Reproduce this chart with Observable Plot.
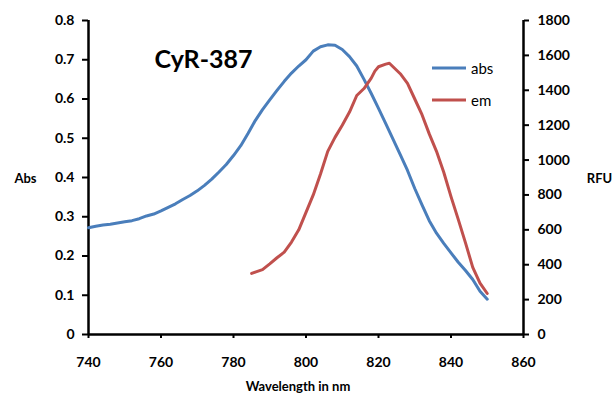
<!DOCTYPE html>
<html>
<head>
<meta charset="utf-8">
<script src="https://cdn.jsdelivr.net/npm/d3@7"></script>
<script src="https://cdn.jsdelivr.net/npm/@observablehq/plot@0.6"></script>
<style>
  html, body { margin: 0; padding: 0; background: #fff; }
  #wrap { position: relative; width: 613px; height: 396px; font-family: Lato, "Open Sans", sans-serif; }
  #legend { position: absolute; left: 432px; top: 52px; font-size: 15px; color: #000; }
  #legend .row { display: flex; align-items: center; height: 32px; }
  #legend svg { margin-right: 5px; }
</style>
</head>
<body>
<div id="wrap"><div id="legend"></div></div>
<script>
const titleText = "CyR-387";
const xLabel = "Wavelength in nm";
const leftLabel = "Abs";
const rightLabel = "RFU";
const seriesNames = ["abs", "em"];
const seriesColors = ["#4a7ebb", "#c0504d"];

const xTicks = [740, 760, 780, 800, 820, 840, 860];
const absTicks = [0, 0.1, 0.2, 0.3, 0.4, 0.5, 0.6, 0.7, 0.8];
const rfuTicks = [0, 200, 400, 600, 800, 1000, 1200, 1400, 1600, 1800];

const absWavelength = [740,742,744,746,748,750,752,754,756,758,760,762,764,766,768,770,772,774,776,778,780,782,784,786,788,790,792,794,796,798,800,802,804,806,808,810,812,814,816,818,820,822,824,826,828,830,832,834,836,838,840,842,844,846,848,850];
const absValues = [0.272,0.276,0.279,0.281,0.284,0.287,0.290,0.295,0.302,0.307,0.315,0.324,0.333,0.344,0.354,0.366,0.380,0.396,0.414,0.433,0.456,0.481,0.512,0.545,0.573,0.598,0.622,0.645,0.666,0.684,0.700,0.722,0.733,0.738,0.737,0.726,0.708,0.684,0.650,0.614,0.576,0.537,0.498,0.458,0.418,0.372,0.330,0.290,0.258,0.232,0.208,0.184,0.163,0.140,0.110,0.090];

const emWavelength = [785,786,788,790,792,794,796,798,800,802,803,804,806,808,810,812,814,816,818,819,820,822,823,824,826,828,830,832,834,836,838,840,842,844,846,848,850];
const emValues = [350,358,372,405,440,472,530,600,700,800,860,920,1050,1130,1200,1275,1370,1410,1470,1510,1535,1550,1555,1535,1495,1440,1350,1260,1150,1050,930,790,660,525,385,295,235];

const absMax = 0.8, rfuMax = 1800;
const k = absMax / rfuMax;

const absData = absWavelength.map((w, i) => ({w, v: absValues[i]}));
const emData = emWavelength.map((w, i) => ({w, v: emValues[i]}));

const chart = Plot.plot({
  width: 613,
  height: 396,
  marginLeft: 88,
  marginRight: 90,
  marginTop: 20,
  marginBottom: 62,
  x: {domain: [740, 860]},
  y: {domain: [0, absMax]},
  style: {fontFamily: "Lato, 'Open Sans', sans-serif", fontSize: "14px", fontWeight: "bold", color: "#000", background: "#fff"},
  marks: [
    Plot.axisX({ticks: xTicks, tickSize: 4, tickPadding: 19, tickFormat: d => String(d), label: null, stroke: "#000", strokeWidth: 2}),
    Plot.axisY({ticks: absTicks, anchor: "left", tickSize: 6, tickPadding: 8, label: null, tickFormat: d => d === 0 ? "0" : d3.format(".1f")(d), strokeWidth: 2}),
    Plot.axisY({ticks: rfuTicks.map(v => v * k), anchor: "right", tickSize: 5, tickPadding: 9, label: null, tickFormat: d => String(Math.round(d / k)), strokeWidth: 2}),
    Plot.ruleY([0], {stroke: "#000", strokeWidth: 2.5}),
    Plot.ruleX([740], {stroke: "#000", strokeWidth: 2.5}),
    Plot.ruleX([860], {stroke: "#000", strokeWidth: 2.5}),
    Plot.line(absData, {x: "w", y: "v", stroke: seriesColors[0], strokeWidth: 3}),
    Plot.line(emData, {x: "w", y: d => d.v * k, stroke: seriesColors[1], strokeWidth: 3}),
    Plot.text([titleText], {frameAnchor: "top-left", dx: 115, dy: 30, fontSize: 25, fontWeight: "bold", textAnchor: "middle"}),
    Plot.text([leftLabel], {frameAnchor: "left", dx: -63, dy: 1, fontSize: 13, fontWeight: "bold", textAnchor: "middle"}),
    Plot.text([rightLabel], {frameAnchor: "right", dx: 76, dy: 1, fontSize: 13, fontWeight: "bold", textAnchor: "middle"}),
    Plot.text([xLabel], {frameAnchor: "bottom", dx: -8, dy: 56, fontSize: 13, fontWeight: "bold", textAnchor: "middle"})
  ]
});
document.getElementById("wrap").prepend(chart);

const legend = document.getElementById("legend");
seriesNames.forEach((name, i) => {
  const row = document.createElement("div");
  row.className = "row";
  row.innerHTML = `<svg width="34" height="6"><line x1="0" y1="3" x2="34" y2="3" stroke="${seriesColors[i]}" stroke-width="3"/></svg><span>${name}</span>`;
  legend.appendChild(row);
});
</script>
</body>
</html>
